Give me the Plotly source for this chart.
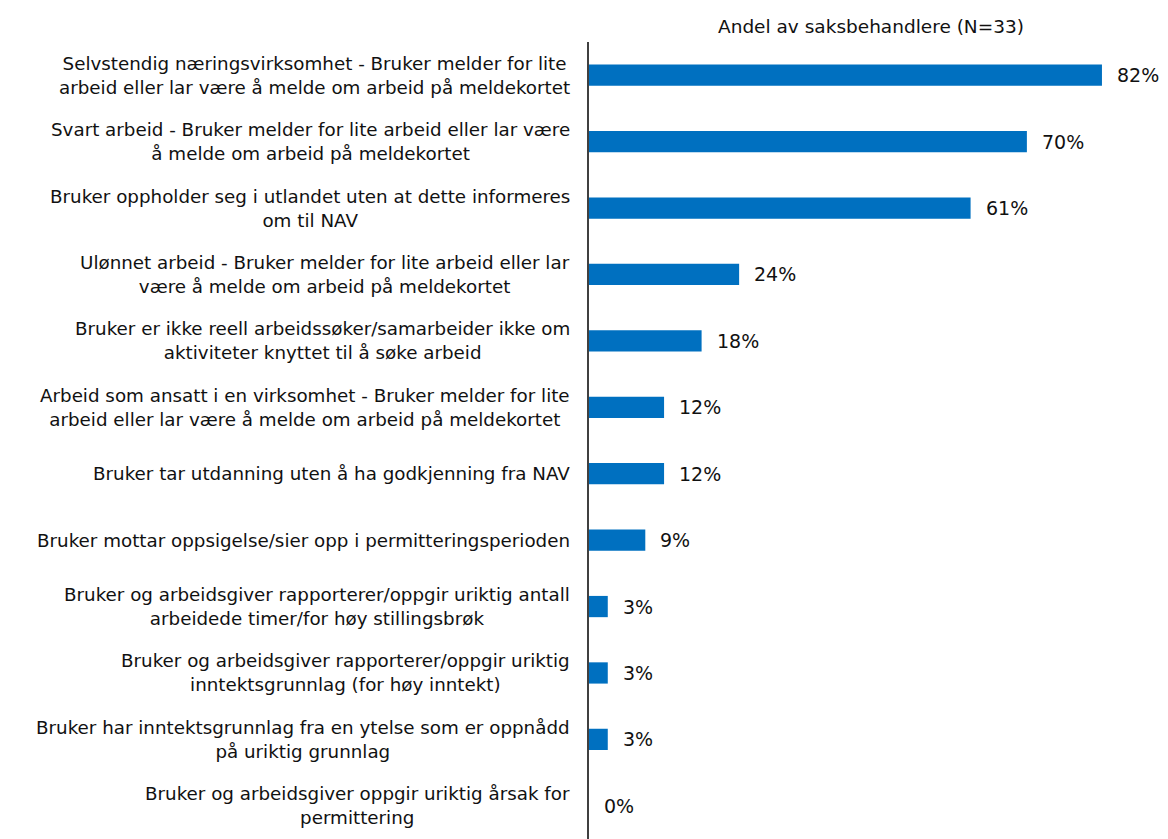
import plotly.graph_objects as go

categories = [
    "Selvstendig næringsvirksomhet - Bruker melder for lite<br>arbeid eller lar være å melde om arbeid på meldekortet",
    "Svart arbeid - Bruker melder for lite arbeid eller lar være<br>å melde om arbeid på meldekortet",
    "Bruker oppholder seg i utlandet uten at dette informeres<br>om til NAV",
    "Ulønnet arbeid - Bruker melder for lite arbeid eller lar<br>være å melde om arbeid på meldekortet",
    "Bruker er ikke reell arbeidssøker/samarbeider ikke om<br>aktiviteter knyttet til å søke arbeid",
    "Arbeid som ansatt i en virksomhet - Bruker melder for lite<br>arbeid eller lar være å melde om arbeid på meldekortet",
    "Bruker tar utdanning uten å ha godkjenning fra NAV",
    "Bruker mottar oppsigelse/sier opp i permitteringsperioden",
    "Bruker og arbeidsgiver rapporterer/oppgir uriktig antall<br>arbeidede timer/for høy stillingsbrøk",
    "Bruker og arbeidsgiver rapporterer/oppgir uriktig<br>inntektsgrunnlag (for høy inntekt)",
    "Bruker har inntektsgrunnlag fra en ytelse som er oppnådd<br>på uriktig grunnlag",
    "Bruker og arbeidsgiver oppgir uriktig årsak for<br>permittering",
]
values = [82, 70, 61, 24, 18, 12, 12, 9, 3, 3, 3, 0]
value_labels = [f"{v}%" for v in values]
title_text = "Andel av saksbehandlere (N=33)"

FONT = "DejaVu Sans"
fig = go.Figure()
fig.add_trace(go.Bar(
    x=values, y=categories, orientation="h",
    marker=dict(color="#0070C0", line=dict(width=0)),
    width=0.32, hoverinfo="skip",
))

for c, v, t in zip(categories, values, value_labels):
    fig.add_annotation(x=v, y=c, xref="x", yref="y", text=t, showarrow=False,
                       xanchor="left", xshift=13, font=dict(family=FONT, size=19, color="#111111"))
    fig.add_annotation(x=0, y=c, xref="paper", yref="y", text=c, showarrow=False,
                       xanchor="right", align="center", xshift=-17,
                       font=dict(family=FONT, size=18.3, color="#111111"))

fig.add_annotation(x=0.5, y=1, xref="paper", yref="paper", text=title_text, showarrow=False,
                   yanchor="bottom", yshift=3, font=dict(family=FONT, size=18.5, color="#111111"))

fig.update_layout(
    width=1168, height=839,
    margin=dict(l=581, r=24, t=34, b=8),
    plot_bgcolor="white", paper_bgcolor="white",
    showlegend=False,
)
fig.update_xaxes(range=[0, 90], visible=False, showgrid=False, zeroline=False)
fig.update_yaxes(categoryorder="array", categoryarray=categories, autorange="reversed",
                 showticklabels=False, showgrid=False, zeroline=False,
                 showline=True, linecolor="#404040", linewidth=2, ticks="")

fig.write_html("out.html")
